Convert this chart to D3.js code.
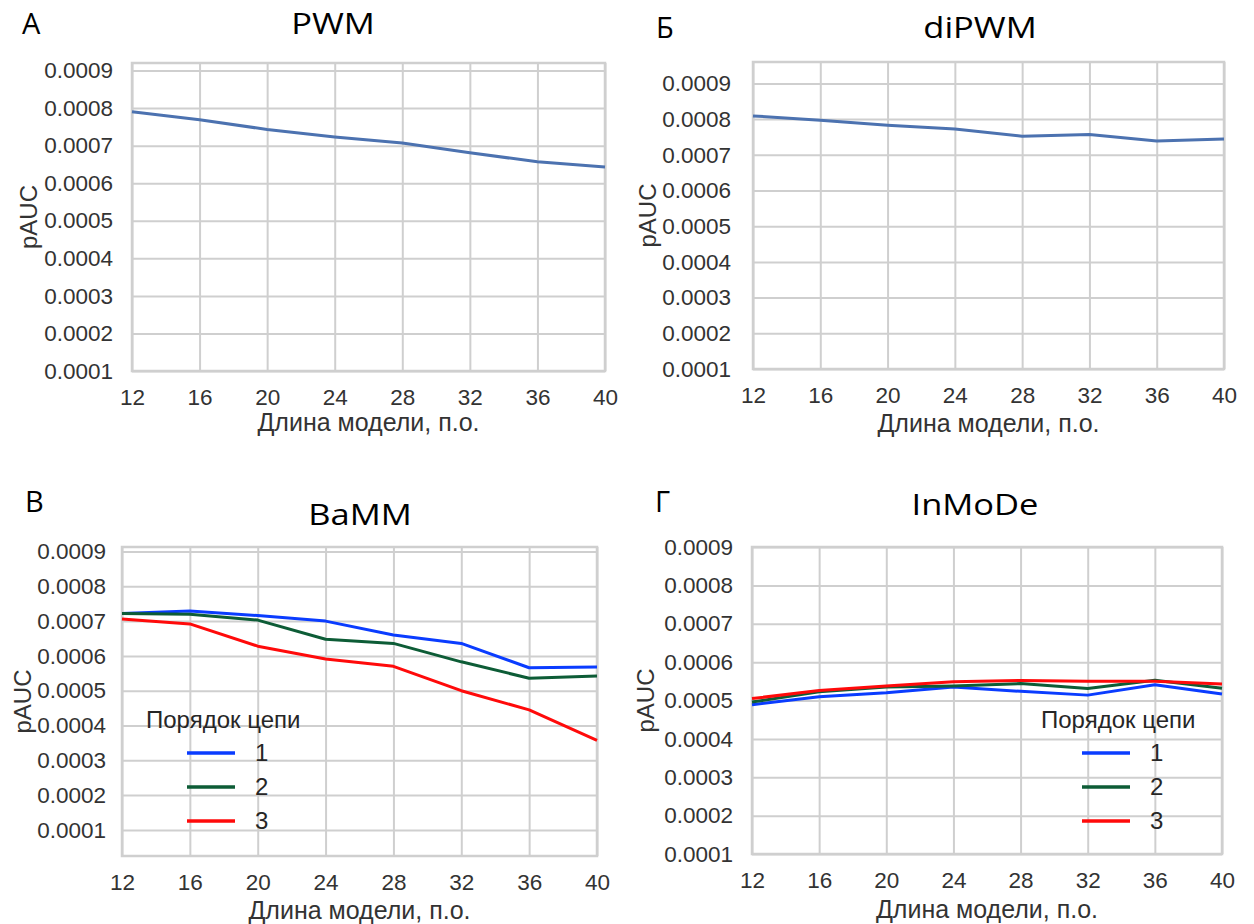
<!DOCTYPE html>
<html>
<head>
<meta charset="utf-8">
<script src="https://cdn.jsdelivr.net/npm/d3@7"></script>
<style>
  body { margin: 0; background: #fff; }
  svg { display: block; }
  .tick text { font-family: "Liberation Sans", Arial, sans-serif; fill: #333; }
  .domain { display: none; }
</style>
</head>
<body>
<svg id="chart"></svg>
<script>
// model lengths, b.p.
const lengths = [12, 16, 20, 24, 28, 32, 36, 40];
const yTickValues = [0.0001, 0.0002, 0.0003, 0.0004, 0.0005, 0.0006, 0.0007, 0.0008, 0.0009];
const orderLabels = ['1', '2', '3'];
const orderColors = ['#0a3cff', '#0d5c36', '#ff0a0a'];

const pwmValues = [0.000790, 0.000769, 0.000743, 0.000723, 0.000707, 0.000681, 0.000657, 0.000643];
const dipwmValues = [0.000809, 0.000797, 0.000783, 0.000772, 0.000752, 0.000757, 0.000739, 0.000744];

const bammOrder1 = [0.000722, 0.000729, 0.000716, 0.000700, 0.000660, 0.000636, 0.000566, 0.000568];
const bammOrder2 = [0.000722, 0.000720, 0.000703, 0.000648, 0.000636, 0.000583, 0.000536, 0.000542];
const bammOrder3 = [0.000706, 0.000692, 0.000628, 0.000591, 0.000570, 0.000500, 0.000445, 0.000357];

const inmodeOrder1 = [0.000489, 0.000510, 0.000520, 0.000535, 0.000524, 0.000514, 0.000541, 0.000517];
const inmodeOrder2 = [0.000496, 0.000523, 0.000535, 0.000538, 0.000544, 0.000531, 0.000553, 0.000532];
const inmodeOrder3 = [0.000505, 0.000526, 0.000538, 0.000549, 0.000552, 0.000550, 0.000550, 0.000543];

const WIDTH = 1254, HEIGHT = 924;

const svg = d3.select('svg#chart')
    .attr('width', WIDTH)
    .attr('height', HEIGHT);

const panels = [
    { letter: 'А', title: 'PWM', left: 132, right: 605, top: 63, bottom: 371, yDomain: [0.0001, 0.00092],
      series: [{ values: pwmValues, color: '#4c72b0' }], legend: null,
      letterX: 22, letterY: 34, titleX: 333, titleY: 34, yLabelX: 37, xLabelY: 431, labelGap: 19 },
    { letter: 'Б', title: 'diPWM', left: 753, right: 1224, top: 62, bottom: 369, yDomain: [0.0001, 0.00096],
      series: [{ values: dipwmValues, color: '#4c72b0' }], legend: null,
      letterX: 656, letterY: 38, titleX: 980, titleY: 38, yLabelX: 656, xLabelY: 432, labelGap: 22 },
    { letter: 'В', title: 'BaMM', left: 122, right: 597, top: 547, bottom: 856, yDomain: [0.000025, 0.000913],
      series: [bammOrder1, bammOrder2, bammOrder3].map((v, i) => ({ values: v, color: orderColors[i] })),
      legend: { x: 146, y: 728 },
      letterX: 25, letterY: 512, titleX: 360, titleY: 525, yLabelX: 31, xLabelY: 919, labelGap: 16 },
    { letter: 'Г', title: 'InMoDe', left: 752, right: 1222, top: 547, bottom: 854, yDomain: [0.0001, 0.0009],
      series: [inmodeOrder1, inmodeOrder2, inmodeOrder3].map((v, i) => ({ values: v, color: orderColors[i] })),
      legend: { x: 1041, y: 728 },
      letterX: 655, letterY: 512, titleX: 975, titleY: 515, yLabelX: 654, xLabelY: 918, labelGap: 19 }
];

panels.forEach(drawPanel);

function drawPanel(p) {
    const w = p.right - p.left, h = p.bottom - p.top;
    const g = svg.append('g').attr('transform', `translate(${p.left},${p.top})`);

    const x = d3.scaleLinear().domain([12, 40]).range([0, w]);
    const y = d3.scaleLinear().domain(p.yDomain).range([h, 0]);

    // grid + ticks
    const xAxis = g.append('g')
        .attr('transform', `translate(0,${h})`)
        .call(d3.axisBottom(x).tickValues(lengths).tickFormat(d3.format('d')).tickSize(-h).tickPadding(18));
    const yAxis = g.append('g')
        .call(d3.axisLeft(y).tickValues(yTickValues).tickFormat(d3.format('.4f')).tickSize(-w).tickPadding(p.labelGap));

    [xAxis, yAxis].forEach(a => {
        a.selectAll('.tick line').attr('stroke', '#cfcfcf').attr('stroke-width', 2);
        a.selectAll('.tick text').attr('font-size', 22.5);
    });

    // frame
    g.append('rect')
        .attr('width', w).attr('height', h)
        .attr('fill', 'none')
        .attr('stroke', '#cfcfcf')
        .attr('stroke-width', 2.5);

    const line = d3.line()
        .x((d, i) => x(lengths[i]))
        .y(d => y(d));

    g.selectAll('path.series')
        .data(p.series)
        .enter().append('path')
            .attr('class', 'series')
            .attr('d', d => line(d.values))
            .attr('fill', 'none')
            .attr('stroke', d => d.color)
            .attr('stroke-width', 3)
            .attr('stroke-linejoin', 'round');

    // texts
    svg.append('text')
        .attr('x', p.letterX).attr('y', p.letterY)
        .attr('font-family', 'Open Sans, sans-serif')
        .attr('font-size', 29)
        .attr('fill', '#000')
        .text(p.letter);

    svg.append('text')
        .attr('transform', `translate(${p.titleX},${p.titleY}) scale(1.15,1)`)
        .attr('text-anchor', 'middle')
        .attr('font-family', 'Open Sans, sans-serif')
        .attr('font-size', 30)
        .attr('fill', '#000')
        .text(p.title);

    svg.append('text')
        .attr('transform', `translate(${p.yLabelX},${p.top + h / 2}) rotate(-90)`)
        .attr('text-anchor', 'middle')
        .attr('font-family', 'Liberation Sans, Arial, sans-serif')
        .attr('font-size', 24)
        .attr('fill', '#333')
        .text('pAUC');

    svg.append('text')
        .attr('x', p.left + w / 2).attr('y', p.xLabelY)
        .attr('text-anchor', 'middle')
        .attr('font-family', 'Liberation Sans, Arial, sans-serif')
        .attr('font-size', 25)
        .attr('fill', '#333')
        .text('Длина модели, п.о.');

    if (p.legend) drawLegend(p.legend);
}

function drawLegend(pos) {
    const lg = svg.append('g').attr('transform', `translate(${pos.x},${pos.y})`);
    lg.append('text')
        .attr('x', 0).attr('y', 0)
        .attr('font-family', 'Liberation Sans, Arial, sans-serif')
        .attr('font-size', 24)
        .attr('fill', '#262626')
        .text('Порядок цепи');

    const item = lg.selectAll('.item')
        .data(orderLabels)
        .enter().append('g')
            .attr('class', 'item')
            .attr('transform', (d, i) => `translate(0,${25 + i * 34})`);

    item.append('line')
        .attr('x1', 41).attr('x2', 89)
        .attr('y1', 0).attr('y2', 0)
        .attr('stroke', (d, i) => orderColors[i])
        .attr('stroke-width', 3.5);

    item.append('text')
        .attr('x', 109).attr('y', 0)
        .attr('dy', '0.35em')
        .attr('font-family', 'Liberation Sans, Arial, sans-serif')
        .attr('font-size', 24)
        .attr('fill', '#262626')
        .text(d => d);
}
</script>
</body>
</html>
